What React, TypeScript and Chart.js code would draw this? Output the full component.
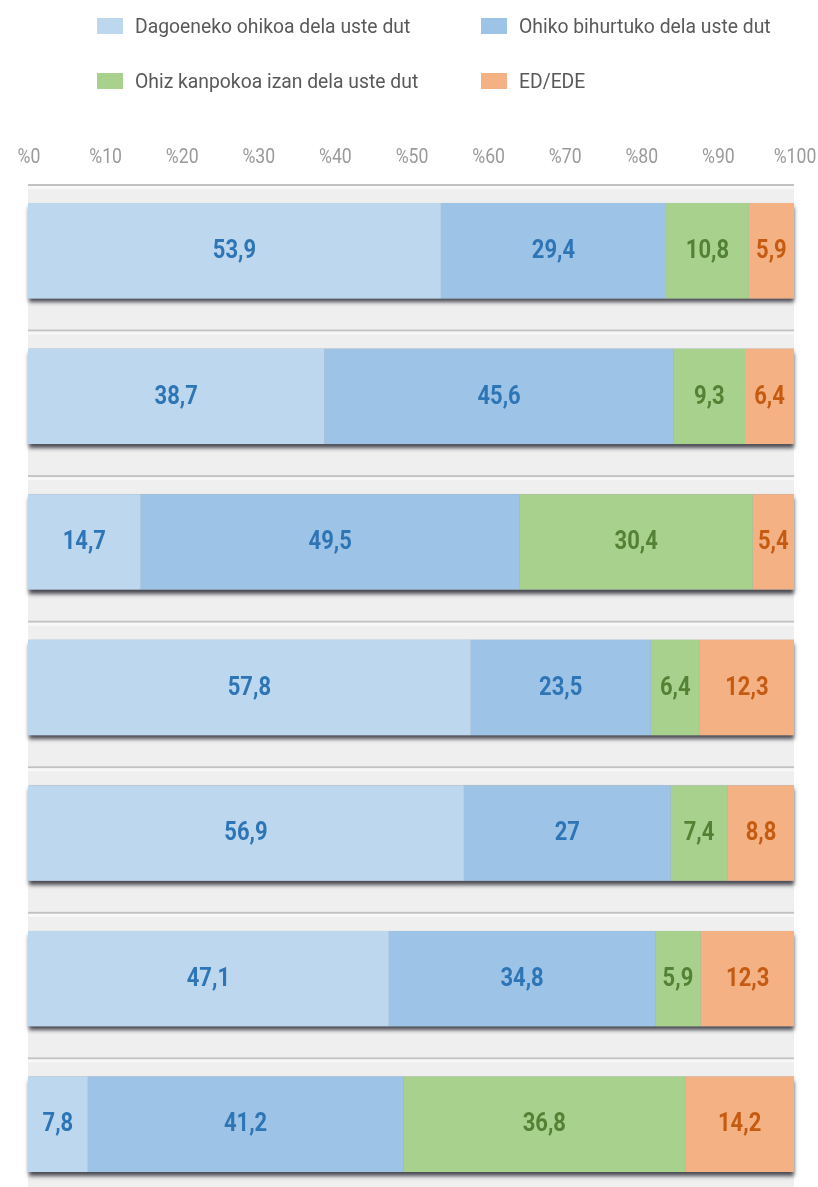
import React, { useEffect, useRef } from "react";
import { Chart, registerables } from "chart.js";

Chart.register(...registerables);

// ---------- data ----------
const categories = ["1", "2", "3", "4", "5", "6", "7"];
const seriesNames = [
  "Dagoeneko ohikoa dela uste dut",
  "Ohiko bihurtuko dela uste dut",
  "Ohiz kanpokoa izan dela uste dut",
  "ED/EDE",
];
const dagoeneko = [53.9, 38.7, 14.7, 57.8, 56.9, 47.1, 7.8];
const bihurtuko = [29.4, 45.6, 49.5, 23.5, 27, 34.8, 41.2];
const kanpokoa = [10.8, 9.3, 30.4, 6.4, 7.4, 5.9, 36.8];
const ede = [5.9, 6.4, 5.4, 12.3, 8.8, 12.3, 14.2];
const tickValues = [0, 10, 20, 30, 40, 50, 60, 70, 80, 90, 100];

const fillColors = ["#bdd7ee", "#9dc3e6", "#a9d18e", "#f4b183"];
const labelColors = ["#2e75b6", "#2e75b6", "#548235", "#c55a11"];

const FONT = "Roboto, 'DejaVu Sans Condensed', sans-serif";

const fmt = (v: number) => String(v).replace(".", ",");

function drawNarrow(ctx: any, text: string, x: number, y: number, k: number) {
  ctx.save();
  ctx.translate(x, y);
  ctx.scale(k, 1);
  ctx.fillText(text, 0, 0);
  ctx.restore();
}

const backdropPlugin = {
  id: "backdrop",
  beforeDatasetsDraw(chart: any) {
    const { ctx, chartArea, scales } = chart;
    const y = scales.y;
    const x = scales.x;
    const n = categories.length;
    const pitch = Math.abs(y.getPixelForValue(1) - y.getPixelForValue(0));
    const left = chartArea.left;
    const right = chartArea.right;
    const firstTop = y.getPixelForValue(0) - pitch / 2 + 7;
    ctx.save();
    ctx.fillStyle = "#efefef";
    ctx.fillRect(left, firstTop, right - left, chartArea.bottom - firstTop);
    for (let i = 0; i < n; i++) {
      const ly = y.getPixelForValue(i) - pitch / 2 + 7;
      ctx.fillStyle = "#c2c2c2";
      ctx.fillRect(left, ly - 1, right - left, 2);
      ctx.fillStyle = "#f8f8f8";
      ctx.fillRect(left, ly + 1, right - left, 3);
    }
    // row shadows
    const meta = chart.getDatasetMeta(0);
    const x0 = x.getPixelForValue(0);
    const x1 = x.getPixelForValue(100);
    meta.data.forEach((el: any) => {
      const h = el.height;
      const top = el.y - h / 2;
      ctx.save();
      ctx.shadowColor = "rgba(45,45,55,0.85)";
      ctx.shadowBlur = 4;
      ctx.shadowOffsetY = 4;
      ctx.shadowOffsetX = 0;
      ctx.fillStyle = "#9aa0a8";
      ctx.fillRect(x0 + 1, top, x1 - x0 - 1, h);
      ctx.restore();
    });
    // tick labels (condensed)
    ctx.fillStyle = "#9a9a9a";
    ctx.font = `21px ${FONT}`;
    ctx.textAlign = "center";
    ctx.textBaseline = "middle";
    tickValues.forEach((v) => {
      drawNarrow(ctx, "%" + v, x.getPixelForValue(v) + 1, 158, 0.84);
    });
    ctx.restore();
  },
};

const labelPlugin = {
  id: "segLabels",
  afterDatasetsDraw(chart: any) {
    const { ctx } = chart;
    ctx.save();
    ctx.font = `bold 25px ${FONT}`;
    ctx.textAlign = "center";
    ctx.textBaseline = "middle";
    chart.data.datasets.forEach((ds: any, d: number) => {
      const meta = chart.getDatasetMeta(d);
      meta.data.forEach((el: any, i: number) => {
        const v = ds.data[i];
        const cx = (el.x + el.base) / 2;
        ctx.fillStyle = labelColors[d];
        drawNarrow(ctx, fmt(v), cx, el.y + 1, 0.88);
      });
    });
    ctx.restore();
  },
};

function Legend() {
  const items = [
    { i: 0, left: 97, top: 18 },
    { i: 1, left: 481, top: 18 },
    { i: 2, left: 97, top: 73 },
    { i: 3, left: 481, top: 73 },
  ];
  return (
    <>
      {items.map((it) => (
        <div
          key={it.i}
          style={{
            position: "absolute",
            left: it.left,
            top: it.top - 6,
            height: 28,
            display: "flex",
            alignItems: "center",
            fontFamily: FONT,
            fontSize: 21,
            color: "#595959",
            whiteSpace: "nowrap",
          }}
        >
          <span
            style={{
              display: "inline-block",
              width: 26,
              height: 16,
              background: fillColors[it.i],
              marginRight: 12,
            }}
          />
          <span style={{ display: "inline-block", transform: "scaleX(0.92)", transformOrigin: "left center" }}>
            {seriesNames[it.i]}
          </span>
        </div>
      ))}
    </>
  );
}

export default function App() {
  const canvasRef = useRef<HTMLCanvasElement | null>(null);

  useEffect(() => {
    document.body.style.margin = "0";
    const canvas = canvasRef.current;
    if (!canvas) return;
    const seriesData = [dagoeneko, bihurtuko, kanpokoa, ede];
    const chart = new Chart(canvas, {
      type: "bar",
      data: {
        labels: categories,
        datasets: seriesData.map((d, k) => ({
          label: seriesNames[k],
          data: d,
          backgroundColor: fillColors[k],
          borderWidth: 0,
          barPercentage: 0.655,
          categoryPercentage: 1,
        })),
      },
      options: {
        indexAxis: "y",
        responsive: false,
        animation: false,
        devicePixelRatio: 1,
        layout: { padding: { left: 28, right: 24, top: 178, bottom: 3 } },
        plugins: {
          legend: { display: false },
          tooltip: { enabled: false },
        },
        scales: {
          x: {
            stacked: true,
            position: "top",
            min: 0,
            max: 100,
            afterBuildTicks: (axis: any) => {
              axis.ticks = tickValues.map((v) => ({ value: v }));
            },
            ticks: { display: false },
            grid: { display: false, drawTicks: false },
            border: { display: false },
          },
          y: {
            stacked: true,
            display: false,
          },
        },
      },
      plugins: [backdropPlugin, labelPlugin],
    });
    return () => chart.destroy();
  }, []);

  return (
    <div style={{ position: "relative", width: 818, height: 1187, overflow: "hidden" }}>
      <canvas
        ref={canvasRef}
        width={818}
        height={1200}
        style={{ position: "absolute", left: 0, top: 0, width: 818, height: 1200 }}
      />
      <Legend />
    </div>
  );
}
